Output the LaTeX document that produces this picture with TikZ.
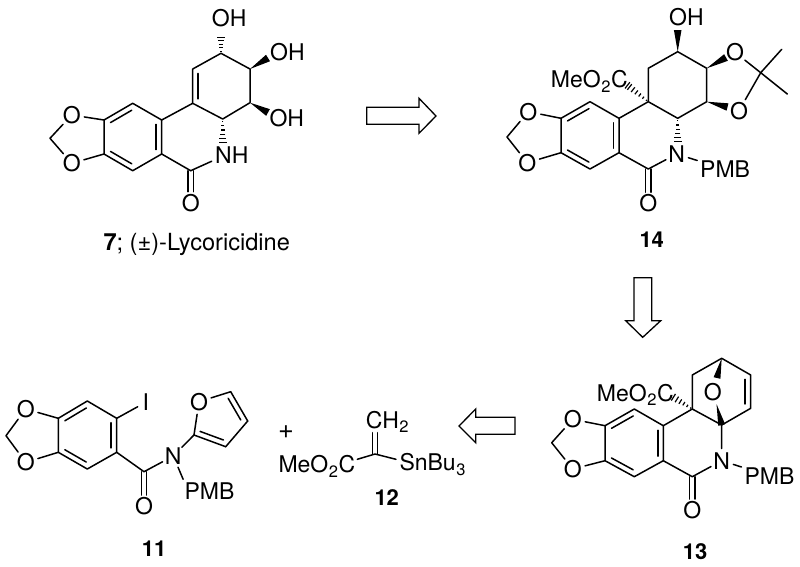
\documentclass[tikz,border=0pt]{standalone}
\usepackage{fontspec}
\setmainfont{TeX Gyre Heros}
\usetikzlibrary{calc}
\newcommand\chemsub[1]{\kern0.6pt\raisebox{-4.5pt}{\fontsize{16.5}{17}\selectfont #1}\kern0.6pt}
\newcommand\dblR[2]{\draw[bond] ($(#1)!.13!(#2)!5.5pt!-90:(#2)$) -- ($(#2)!.13!(#1)!5.5pt!90:(#1)$);}
\newcommand\carbonyl[2]{\draw[bond,shorten >=11pt] ($(#1)!2.6pt!90:(#2)$) -- ($(#2)!2.6pt!-90:(#1)$);\draw[bond,shorten >=11pt] ($(#1)!2.6pt!-90:(#2)$) -- ($(#2)!2.6pt!90:(#1)$);}
\newcommand\wdg[3]{\fill[black] (#1) -- ($(#2)!#3pt!90:(#1)$) -- ($(#2)!#3pt!-90:(#1)$) -- cycle;}
\newcommand\hsh[3]{\foreach \t in {#3}{\pgfmathsetmacro\h{0.4+3.6*\t}\draw[line width=1.2pt] ($(#1)!\t!(#2)!\h pt!90:(#2)$) -- ($(#1)!\t!(#2)!\h pt!-90:(#2)$);}}
\newcommand\arylbonds[1]{\draw[bond] (#1ul)--(#1t)--(#1ur)--(#1lr)--(#1b)--(#1ll)--cycle;
  \dblR{#1ul}{#1t}\dblR{#1ur}{#1lr}\dblR{#1b}{#1ll}
  \draw[bond] (#1ul)--(#1o1)--(#1m)--(#1o2)--(#1ll);}
\tikzset{
  bond/.style={line width=1.5pt,line cap=round,line join=round},
  atom/.style={circle,inner sep=0pt,minimum size=24pt,font=\fontsize{23}{25}\selectfont},
  txt/.style={inner sep=0pt,anchor=base west,font=\fontsize{23}{25}\selectfont},
  cmpd/.style={inner sep=0pt,anchor=base west,font=\fontsize{22}{24}\selectfont\bfseries},
  shaft/.style={line width=1.3pt,line join=miter,fill=white},
  toatom/.style={shorten >=11pt}
}
\begin{document}
\begin{tikzpicture}[x=1pt,y=-1pt]
\useasboundingbox (0,0) rectangle (800,566);
% ---------- 7
\coordinate (a7ul) at (104,120);
\coordinate (a7t) at (132.7,103.3);
\coordinate (a7ur) at (161.7,120);
\coordinate (a7lr) at (161.7,154);
\coordinate (a7b) at (132.7,170.7);
\coordinate (a7ll) at (104,154);
\coordinate (a7m) at (50,138.3);
\node[atom] (a7o1) at (71.7,115) {O};
\node[atom] (a7o2) at (71.7,163.3) {O};
\coordinate (a7c1) at (192.7,103.3);
\coordinate (a7c2) at (192.7,69);
\coordinate (a7c3) at (221,53.3);
\coordinate (a7c4) at (250,69);
\coordinate (a7c5) at (250,102.7);
\coordinate (a7c6) at (222.7,119);
\coordinate (a7co) at (190.7,170.7);
\node[atom] (a7oc) at (190.7,202.7) {O};
\coordinate (a7n) at (221.7,156.7);
\coordinate (a7h1) at (221,37);
\coordinate (a7w1) at (268,58);
\coordinate (a7w2) at (268,112.5);
\coordinate (a7h2) at (222.7,143);
\node[txt] (a7oh1) at (211.7,26) {OH};
\node[txt] (a7oh2) at (270,60) {OH};
\node[txt] (a7oh3) at (269.3,126.7) {OH};
\node[txt] (a7nh) at (215,163.3) {NH};
\arylbonds{a7}
\draw[bond] (a7ur)--(a7c1)--(a7c2)--(a7c3)--(a7c4)--(a7c5)--(a7c6)--(a7c1);
\dblR{a7c1}{a7c2}
\draw[bond] (a7lr)--(a7co);
\draw[bond,toatom] (a7co)--(a7n);
\carbonyl{a7co}{a7oc}
\wdg{a7c4}{a7w1}{3.8}
\wdg{a7c5}{a7w2}{3.8}
\hsh{a7c3}{a7h1}{.12,.34,.56,.78,.98}
\hsh{a7c6}{a7h2}{.1,.28,.46,.64,.82,.98}
\node[txt,font=\fontsize{23.6}{25}\selectfont] (cap7) at (103.3,250.7) {\textbf{7}; (±)-Lycoricidine};
% ---------- 14
\coordinate (a14ul) at (561,118.3);
\coordinate (a14t) at (590,101.7);
\coordinate (a14ur) at (619,118.3);
\coordinate (a14lr) at (619,152.7);
\coordinate (a14b) at (590,169);
\coordinate (a14ll) at (561,152.7);
\coordinate (a14m) at (507,137);
\node[atom] (a14o1) at (528.3,111.7) {O};
\node[atom] (a14o2) at (527.3,162.7) {O};
\coordinate (a14c1) at (648.3,101.7);
\coordinate (a14c2) at (648.3,68.3);
\coordinate (a14c3) at (677.7,51.7);
\coordinate (a14c4) at (706.7,68.3);
\coordinate (a14c5) at (706.7,101.7);
\coordinate (a14c6) at (677.7,118.3);
\coordinate (a14co) at (648.3,169);
\node[atom] (a14oc) at (648.3,203.3) {O};
\node[atom] (a14n) at (676.7,154) {N};
\node[txt] (a14pmb) at (700,177.7) {PMB};
\node[atom] (a14oa) at (735,52.3) {O};
\node[atom] (a14ob) at (739,110.7) {O};
\coordinate (a14k) at (760.7,72.7);
\coordinate (a14me1) at (781.7,49.3);
\coordinate (a14me2) at (787.3,94);
\coordinate (a14w1) at (677.7,30);
\coordinate (a14w2) at (726,57.5);
\coordinate (a14w3) at (727.5,107);
\coordinate (a14h1) at (677.7,142);
\coordinate (a14h2) at (627,85);
\node[txt] (a14oh) at (669,25.3) {OH};
\node[txt] (a14est) at (550.7,87.5) {MeO\chemsub{2}C};
\arylbonds{a14}
\draw[bond] (a14ur)--(a14c1)--(a14c2)--(a14c3)--(a14c4)--(a14c5)--(a14c6)--(a14c1);
\draw[bond] (a14lr)--(a14co)--(a14n);
\draw[bond,shorten >=3pt] (a14n)--(a14pmb);
\carbonyl{a14co}{a14oc}
\draw[bond] (a14oa)--(a14k)--(a14ob);
\draw[bond] (a14me1)--(a14k)--(a14me2);
\wdg{a14c3}{a14w1}{3.8}
\wdg{a14c4}{a14w2}{3.8}
\wdg{a14c5}{a14w3}{3.8}
\hsh{a14c6}{a14h1}{.1,.28,.46,.64,.82,.98}
\hsh{a14c1}{a14h2}{.08,.24,.4,.56,.72,.88,.98}
\node[cmpd] (lab14) at (639.3,247.3) {14};
% ---------- 13
\coordinate (a13ul) at (605,425.7);
\coordinate (a13t) at (634.3,409);
\coordinate (a13ur) at (663.3,425.7);
\coordinate (a13lr) at (663.3,460.7);
\coordinate (a13b) at (634.3,476.7);
\coordinate (a13ll) at (605,460.7);
\coordinate (a13m) at (551.7,442.7);
\node[atom] (a13o1) at (572.7,419.3) {O};
\node[atom] (a13o2) at (572.7,469) {O};
\coordinate (a13c1) at (692.3,409);
\coordinate (a13c2) at (692.3,375);
\coordinate (a13c3) at (721.7,358.3);
\coordinate (a13c4) at (750.7,375);
\coordinate (a13c5) at (750.7,408.3);
\coordinate (a13c6) at (721.7,425);
\coordinate (a13co) at (692.3,476.7);
\node[atom] (a13oc) at (692.3,510) {O};
\node[atom] (a13n) at (721.7,460.7) {N};
\node[txt] (a13pmb) at (744.3,484.3) {PMB};
\node[atom] (a13ob) at (712.7,392.3) {O};
\coordinate (a13w1) at (717,378);
\coordinate (a13w2) at (716.5,404);
\coordinate (a13h) at (673,397);
\node[txt] (a13est) at (596.7,401) {MeO\chemsub{2}C};
\arylbonds{a13}
\draw[bond] (a13ur)--(a13c1)--(a13c2)--(a13c3)--(a13c4)--(a13c5)--(a13c6)--(a13c1);
\dblR{a13c4}{a13c5}
\draw[bond] (a13lr)--(a13co)--(a13n)--(a13c6);
\draw[bond,shorten >=3pt] (a13n)--(a13pmb);
\carbonyl{a13co}{a13oc}
\wdg{a13c3}{a13w1}{3.5}
\wdg{a13w2}{a13c6}{3.5}
\hsh{a13c1}{a13h}{.08,.26,.44,.62,.8,.98}
\node[cmpd] (lab13) at (682.7,559) {13};
% ---------- 11
\coordinate (a11ul) at (58.3,418.3);
\coordinate (a11t) at (87.3,401);
\coordinate (a11ur) at (116.7,418.3);
\coordinate (a11lr) at (116.7,452.3);
\coordinate (a11b) at (87.3,469);
\coordinate (a11ll) at (58.3,452.3);
\coordinate (a11m) at (6,435.7);
\node[atom] (a11o1) at (25.7,409) {O};
\node[atom] (a11o2) at (25.7,462.3) {O};
\node[atom,minimum size=16pt] (a11i) at (145.7,402.3) {I};
\coordinate (a11co) at (144,471.7);
\node[atom] (a11oc) at (144,506) {O};
\node[atom] (a11n) at (173.3,456) {N};
\node[txt] (a11pmb) at (184.3,499) {PMB};
\coordinate (a11f2) at (194,435);
\node[atom] (a11fo) at (199,401.7) {O};
\coordinate (a11f5) at (230.7,391.7);
\coordinate (a11f4) at (247.7,421);
\coordinate (a11f3) at (225.7,446.7);
\arylbonds{a11}
\draw[bond] (a11ur)--(a11i);
\draw[bond] (a11lr)--(a11co)--(a11n)--(a11f2);
\draw[bond,shorten >=3pt] (a11n)--(a11pmb.north west);
\carbonyl{a11co}{a11oc}
\draw[bond] (a11fo)--(a11f2);
\draw[bond] (a11f2)--(a11f3);
\draw[bond] (a11f3)--(a11f4);
\draw[bond] (a11f4)--(a11f5);
\draw[bond] (a11f5)--(a11fo);
\dblR{a11f5}{a11f4}
\dblR{a11f3}{a11f2}
\node[cmpd] (lab11) at (141.7,556.7) {11};
% ---------- 12
\node[txt,anchor=center,font=\fontsize{27}{28}\selectfont] (plus) at (286,431.7) {+};
\node[txt] (a12est) at (278.3,472.7) {MeO\chemsub{2}C};
\node[txt] (a12ch) at (365.7,428.3) {CH\chemsub{2}};
\node[txt] (a12sn) at (399.3,470.7) {SnBu\chemsub{3}};
\coordinate (a12c) at (375,454);
\coordinate (a12top) at (375,421.7);
\coordinate (a12l) at (357.3,459.3);
\coordinate (a12r) at (396,459.3);
\draw[bond] (a12l)--(a12c)--(a12r);
\carbonyl{a12c}{a12top}
\node[cmpd] (lab12) at (374.3,505) {12};
% ---------- retrosynthesis arrows
\draw[shaft] (366.7,107.3)--(419,107.3)--(419,98.3)--(436,116)--(419,133.3)--(419,124.3)--(366.7,124.3)--cycle;
\draw[shaft] (634,277.7)--(651.7,277.7)--(651.7,320.7)--(660.7,320.7)--(642.7,337.3)--(625.7,320.7)--(634,320.7)--cycle;
\draw[shaft] (515,417.3)--(475.7,417.3)--(475.7,409)--(459,426)--(475.7,442.7)--(475.7,434.3)--(515,434.3)--cycle;
\end{tikzpicture}
\end{document}
